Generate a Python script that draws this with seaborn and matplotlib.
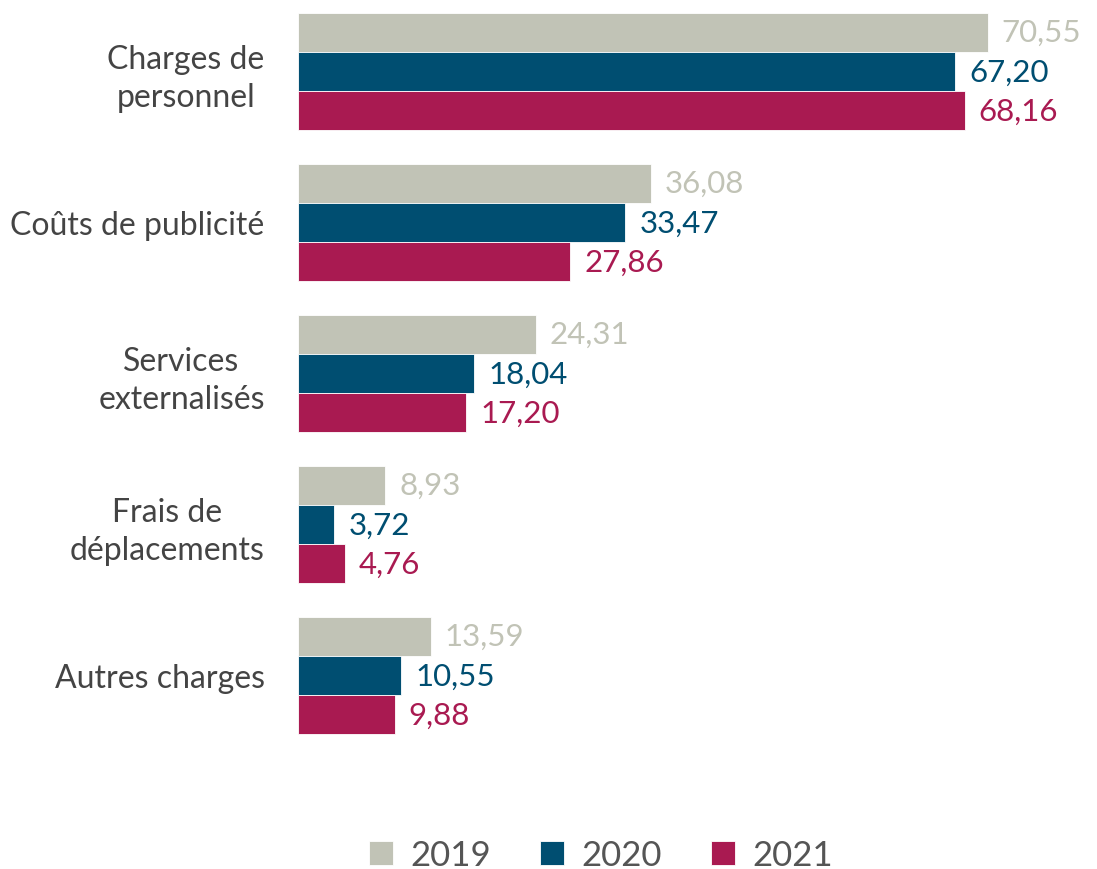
import matplotlib.pyplot as plt
import pandas as pd
import seaborn as sns

# Data
categories = ["Charges de\npersonnel", "Coûts de publicité", "Services\nexternalisés",
              "Frais de\ndéplacements", "Autres charges"]
years = ["2019", "2020", "2021"]
v2019 = [70.55, 36.08, 24.31, 8.93, 13.59]
v2020 = [67.20, 33.47, 18.04, 3.72, 10.55]
v2021 = [68.16, 27.86, 17.20, 4.76, 9.88]
colors = ["#c1c3b6", "#004e71", "#a91a51"]

df = pd.DataFrame({
    "cat": categories * 3,
    "year": [y for y in years for _ in categories],
    "value": v2019 + v2020 + v2021,
})

sns.set_style("white")
plt.rcParams['font.family'] = ['Lato', 'DejaVu Sans']

fig = plt.figure(figsize=(10.97, 8.7), dpi=100)
ax = fig.add_axes([298 / 1097, 42.5 / 870, 1 - 298 / 1097, 827.5 / 870])

sns.barplot(data=df, y="cat", x="value", hue="year", palette=colors,
            orient="h", width=0.78, saturation=1, linewidth=0.6,
            edgecolor="white", ax=ax, legend=True)

### Value labels next to each bar
for cont, col in zip(ax.containers, colors):
    labels = [f"{v:.2f}".replace(".", ",") for v in cont.datavalues]
    ax.bar_label(cont, labels=labels, padding=10, color=col, fontsize=22.5)

ax.set_xlim(0, 81.7)
ax.set_ylim(5.0, -0.48)
ax.set_xlabel("")
ax.set_ylabel("")
ax.set_xticks([])
ax.tick_params(axis="y", length=0, pad=24, labelsize=23, labelcolor="#444444")
for lbl in ax.get_yticklabels():
    lbl.set_horizontalalignment("right")
    lbl.set_multialignment("center")
    lbl.set_linespacing(1.3)
sns.despine(ax=ax, left=True, bottom=True)

### Legend at the bottom
handles, labs = ax.get_legend_handles_labels()
ax.get_legend().remove()
fig.legend(handles, labs, loc="center", bbox_to_anchor=(0.548, 0.016), ncol=3,
           frameon=False, fontsize=25, labelcolor="#555555", handlelength=0.7,
           handleheight=0.7, handletextpad=0.5, columnspacing=1.4)

fig.savefig("out.png", dpi=100)
